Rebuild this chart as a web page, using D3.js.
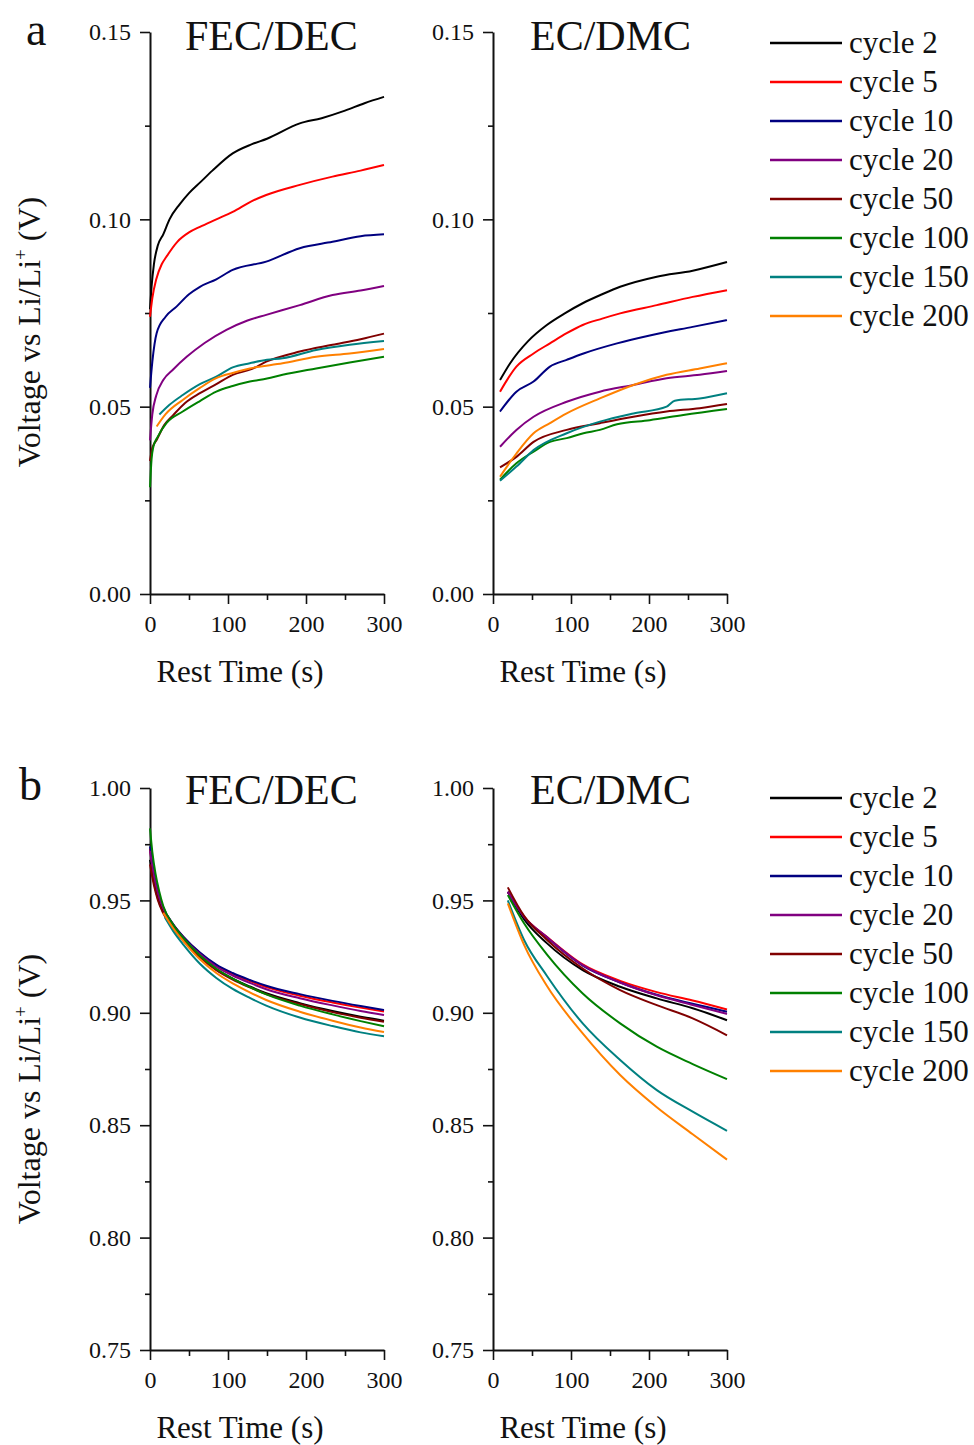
<!DOCTYPE html>
<html>
<head>
<meta charset="utf-8">
<script src="https://cdn.jsdelivr.net/npm/d3@7"></script>
<style>
  body { margin: 0; background: #fff; }
  svg text { font-family: "Liberation Serif", "Times New Roman", serif; fill: #111; }
  .axis path, .axis line { stroke: #111; }
  .axis path { stroke-width: 2px; }
  .axis line { stroke-width: 1.6px; }
</style>
</head>
<body>
<script>
var cycles = ["cycle 2", "cycle 5", "cycle 10", "cycle 20", "cycle 50", "cycle 100", "cycle 150", "cycle 200"];
var colors = ["#000000", "#ff0000", "#000080", "#800080", "#800000", "#008000", "#008080", "#ff8000"];

// (a) FEC/DEC : [rest time s, voltage V]
var aFec2   = [[0,0.076],[2,0.082],[5,0.088],[10,0.093],[17,0.096],[25,0.100],[38,0.104],[50,0.107],[65,0.110],[80,0.113],[106,0.1176],[130,0.120],[150,0.1215],[192,0.1256],[220,0.127],[250,0.129],[275,0.131],[300,0.1327]];
var aFec5   = [[0,0.074],[3,0.079],[8,0.084],[15,0.088],[21,0.090],[35,0.094],[50,0.0965],[64,0.098],[85,0.100],[106,0.102],[130,0.1048],[149,0.1065],[192,0.1092],[234,0.1114],[270,0.113],[300,0.1145]];
var aFec10  = [[0,0.055],[3,0.062],[8.5,0.0696],[20,0.074],[34,0.0767],[50,0.080],[64,0.082],[85,0.084],[106,0.0865],[149,0.0887],[192,0.0923],[234,0.094],[270,0.0955],[300,0.096]];
var aFec20  = [[0,0.041],[3,0.048],[8,0.053],[17,0.0571],[30,0.060],[47,0.0633],[70,0.067],[98,0.0705],[125,0.073],[149,0.0745],[192,0.0771],[234,0.0798],[270,0.081],[300,0.0822]];
var aFec50  = [[0,0.0355],[3,0.039],[8.5,0.0411],[18,0.045],[30,0.0478],[45,0.051],[64,0.0536],[85,0.056],[106,0.0585],[130,0.060],[149,0.062],[192,0.0647],[234,0.0665],[270,0.068],[300,0.0695]];
var aFec100 = [[0,0.0285],[2,0.036],[4.3,0.0393],[10,0.042],[21,0.0456],[42,0.0487],[64,0.0515],[85,0.054],[106,0.0555],[128,0.0567],[150,0.0575],[170,0.0585],[213,0.0602],[256,0.0618],[300,0.0633]];
var aFec150 = [[12,0.0479],[25,0.0505],[42,0.0531],[64,0.056],[85,0.058],[106,0.0605],[128,0.0616],[150,0.0625],[170,0.0629],[213,0.0651],[256,0.0665],[300,0.0675]];
var aFec200 = [[8.5,0.0447],[20,0.048],[42,0.0518],[64,0.055],[85,0.0576],[106,0.059],[128,0.0602],[170,0.0616],[213,0.0633],[256,0.0642],[300,0.0654]];

// (a) EC/DMC
var aEc2   = [[9,0.0571],[22,0.0616],[45,0.0675],[69,0.0718],[92,0.0749],[115,0.0776],[140,0.080],[163,0.082],[210,0.0847],[256,0.0863],[300,0.0886]];
var aEc5   = [[9,0.054],[30,0.0607],[52,0.0642],[73,0.0669],[94.5,0.0696],[115,0.0718],[140,0.0735],[163,0.0749],[210,0.0771],[256,0.0793],[300,0.0811]];
var aEc10  = [[9,0.0487],[30,0.054],[52,0.0567],[73,0.0607],[94.5,0.0625],[116,0.0642],[159,0.0669],[201,0.069],[256,0.0713],[300,0.0731]];
var aEc20  = [[9,0.0393],[30,0.0438],[52,0.0473],[94.5,0.0513],[137,0.054],[180,0.0558],[222.6,0.0576],[265,0.0585],[300,0.0595]];
var aEc50  = [[9,0.0338],[30,0.0366],[52,0.0406],[94.5,0.0438],[137,0.0456],[180,0.0473],[222.6,0.0487],[265,0.0496],[300,0.0507]];
var aEc100 = [[9,0.0305],[30,0.0349],[52,0.038],[73,0.0406],[94.5,0.0416],[116,0.0429],[137,0.0438],[159,0.0453],[201,0.0464],[244,0.0478],[300,0.0494]];
var aEc150 = [[9,0.0302],[30,0.034],[52,0.0384],[94.5,0.0429],[137,0.046],[180,0.0482],[222.6,0.05],[233,0.0516],[265,0.0522],[300,0.0536]];
var aEc200 = [[9,0.0313],[30,0.0375],[52,0.0429],[73,0.0456],[94.5,0.0482],[137,0.0522],[180,0.0558],[222.6,0.0585],[265,0.0602],[300,0.0616]];

// (b) FEC/DEC
var bFec2   = [[0,0.968],[5,0.958],[10,0.951],[17,0.9448],[30,0.9378],[43,0.9323],[64,0.925],[85,0.9193],[106,0.9152],[128,0.9117],[149,0.9087],[192,0.9043],[234,0.9008],[270,0.8983],[300,0.8965]];
var bFec5   = [[0,0.973],[5,0.9612],[10,0.9536],[17,0.9466],[30,0.9391],[43,0.9336],[64,0.9266],[85,0.9211],[106,0.9173],[128,0.9141],[149,0.9114],[192,0.9076],[234,0.9046],[270,0.9023],[300,0.9006]];
var bFec10  = [[0,0.974],[5,0.962],[10,0.954],[17,0.9468],[30,0.9393],[43,0.9338],[64,0.9268],[85,0.9214],[106,0.9177],[128,0.9146],[149,0.912],[192,0.9083],[234,0.9053],[270,0.903],[300,0.9012]];
var bFec20  = [[0,0.972],[5,0.961],[10,0.9533],[17,0.9463],[30,0.9388],[43,0.9332],[64,0.9261],[85,0.9205],[106,0.9166],[128,0.9133],[149,0.9105],[192,0.9065],[234,0.9033],[270,0.9008],[300,0.899]];
var bFec50  = [[0,0.966],[5,0.9568],[10,0.9502],[17,0.9443],[30,0.9375],[43,0.932],[64,0.9247],[85,0.919],[106,0.9148],[128,0.9113],[149,0.9083],[192,0.9039],[234,0.9003],[270,0.8978],[300,0.896]];
var bFec100 = [[0,0.982],[3,0.9715],[7,0.962],[12,0.9538],[17,0.9475],[30,0.939],[43,0.9332],[64,0.9255],[85,0.9196],[106,0.9152],[128,0.9114],[149,0.9082],[192,0.9032],[234,0.8993],[270,0.8963],[300,0.894]];
var bFec150 = [[19,0.9425],[30,0.9362],[43,0.9302],[64,0.9218],[85,0.9155],[106,0.9106],[128,0.9066],[149,0.9032],[192,0.8979],[234,0.8941],[270,0.8913],[300,0.8896]];
var bFec200 = [[17,0.9445],[30,0.9375],[43,0.9318],[64,0.9238],[85,0.9177],[106,0.9131],[128,0.9091],[149,0.9057],[192,0.9005],[234,0.8965],[270,0.8935],[300,0.8915]];

// (b) EC/DMC
var bEc2   = [[19,0.9538],[40,0.9415],[69,0.931],[115,0.919],[163,0.9116],[210,0.9064],[256,0.902],[300,0.8967]];
var bEc5   = [[19,0.9538],[40,0.9427],[69,0.9338],[115,0.9215],[163,0.9142],[210,0.9092],[256,0.9055],[300,0.9015]];
var bEc10  = [[19,0.9538],[40,0.9425],[69,0.9335],[115,0.921],[163,0.9135],[210,0.908],[256,0.904],[300,0.9005]];
var bEc20  = [[19,0.9538],[40,0.9427],[69,0.9337],[115,0.9212],[163,0.9135],[210,0.9078],[256,0.9035],[300,0.8995]];
var bEc50  = [[19,0.9558],[40,0.943],[69,0.9325],[115,0.9197],[163,0.9101],[210,0.9034],[256,0.8975],[300,0.89]];
var bEc100 = [[19,0.9524],[40,0.9397],[69,0.926],[115,0.9086],[163,0.8953],[210,0.8849],[256,0.8772],[300,0.8705]];
var bEc150 = [[19,0.950],[40,0.9323],[69,0.9165],[115,0.8953],[163,0.879],[210,0.8656],[256,0.856],[300,0.8475]];
var bEc200 = [[19,0.9487],[40,0.9301],[69,0.912],[115,0.8908],[163,0.8723],[210,0.858],[256,0.846],[300,0.8347]];

var xTicks = [0, 100, 200, 300],
    xMinor = [50, 150, 250];
var aTicks = [0, 0.05, 0.10, 0.15],
    aMinor = [0.025, 0.075, 0.125];
var bTicks = [0.75, 0.80, 0.85, 0.90, 0.95, 1.00],
    bMinor = [0.775, 0.825, 0.875, 0.925, 0.975];

var width = 974, height = 1445;

var svg = d3.select("body").append("svg")
    .attr("width", width)
    .attr("height", height);

function drawPanel(opt) {
  var x = d3.scaleLinear().domain([0, 300]).range([opt.left, opt.left + 234]),
      y = d3.scaleLinear().domain(opt.domain).range([opt.bottom, opt.top]);

  var line = d3.line()
      .x(function(p) { return x(p[0]); })
      .y(function(p) { return y(p[1]); })
      .curve(d3.curveMonotoneX);

  var g = svg.append("g");

  // minor ticks first, majors on top
  g.append("g").attr("class", "axis")
      .attr("transform", "translate(" + opt.left + ",0)")
      .call(d3.axisLeft(y).tickValues(opt.minor).tickSize(5).tickFormat(""))
      .select(".domain").remove();
  g.append("g").attr("class", "axis")
      .attr("transform", "translate(0," + opt.bottom + ")")
      .call(d3.axisBottom(x).tickValues(xMinor).tickSize(6).tickFormat(""))
      .select(".domain").remove();

  g.append("g").attr("class", "axis")
      .attr("transform", "translate(" + opt.left + ",0)")
      .call(d3.axisLeft(y).tickValues(opt.ticks).tickSize(10).tickSizeOuter(0)
        .tickPadding(9).tickFormat(d3.format(".2f")))
      .selectAll("text").style("font-size", "24px");
  g.append("g").attr("class", "axis")
      .attr("transform", "translate(0," + opt.bottom + ")")
      .call(d3.axisBottom(x).tickValues(xTicks).tickSize(10).tickSizeOuter(0).tickPadding(11))
      .selectAll("text").style("font-size", "24px");

  g.selectAll(".series")
      .data(opt.series)
    .enter().append("path")
      .attr("class", "series")
      .attr("fill", "none")
      .attr("stroke", function(d, i) { return colors[i]; })
      .attr("stroke-width", 2)
      .attr("d", line);

  g.append("text")
      .attr("x", opt.titleX)
      .attr("y", opt.titleY)
      .style("font-size", "42px")
      .text(opt.title);

  g.append("text")
      .attr("x", opt.left + 90)
      .attr("y", opt.bottom + 88)
      .attr("text-anchor", "middle")
      .style("font-size", "31px")
      .text("Rest Time (s)");
}

function drawLegend(top) {
  var lg = svg.append("g").attr("transform", "translate(770," + top + ")");
  var row = lg.selectAll("g")
      .data(cycles)
    .enter().append("g")
      .attr("transform", function(d, i) { return "translate(0," + (i * 39) + ")"; });
  row.append("line")
      .attr("x1", 0).attr("x2", 72)
      .attr("stroke", function(d, i) { return colors[i]; })
      .attr("stroke-width", 2.5);
  row.append("text")
      .attr("x", 79)
      .attr("y", 10)
      .style("font-size", "31px")
      .text(function(d) { return d; });
}

function drawYLabel(cy) {
  var t = svg.append("text")
      .attr("transform", "translate(40," + cy + ") rotate(-90)")
      .attr("text-anchor", "middle")
      .style("font-size", "32px");
  t.append("tspan").text("Voltage vs Li/Li");
  t.append("tspan").attr("dy", -13).style("font-size", "19px").text("+");
  t.append("tspan").attr("dy", 13).text(" (V)");
}

// row a
drawPanel({left: 150, top: 32, bottom: 594, domain: [0, 0.15], ticks: aTicks, minor: aMinor,
  title: "FEC/DEC", titleX: 185, titleY: 50,
  series: [aFec2, aFec5, aFec10, aFec20, aFec50, aFec100, aFec150, aFec200]});
drawPanel({left: 493, top: 32, bottom: 594, domain: [0, 0.15], ticks: aTicks, minor: aMinor,
  title: "EC/DMC", titleX: 530, titleY: 50,
  series: [aEc2, aEc5, aEc10, aEc20, aEc50, aEc100, aEc150, aEc200]});
drawLegend(43);
drawYLabel(332);
svg.append("text").attr("x", 26).attr("y", 45).style("font-size", "46px").text("a");

// row b
drawPanel({left: 150, top: 788, bottom: 1350, domain: [0.75, 1.00], ticks: bTicks, minor: bMinor,
  title: "FEC/DEC", titleX: 185, titleY: 804,
  series: [bFec2, bFec5, bFec10, bFec20, bFec50, bFec100, bFec150, bFec200]});
drawPanel({left: 493, top: 788, bottom: 1350, domain: [0.75, 1.00], ticks: bTicks, minor: bMinor,
  title: "EC/DMC", titleX: 530, titleY: 804,
  series: [bEc2, bEc5, bEc10, bEc20, bEc50, bEc100, bEc150, bEc200]});
drawLegend(798);
drawYLabel(1089);
svg.append("text").attr("x", 19).attr("y", 800).style("font-size", "46px").text("b");
</script>
</body>
</html>
